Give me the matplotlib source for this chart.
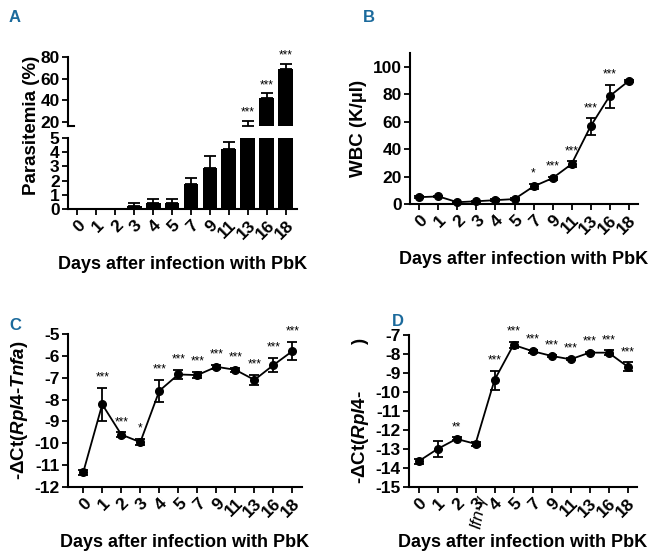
import numpy as np
import matplotlib
matplotlib.use("Agg")
import matplotlib.pyplot as plt

plt.rcParams['font.family'] = ['Liberation Sans', 'DejaVu Sans']
plt.rcParams['font.weight'] = 'bold'
plt.rcParams['axes.unicode_minus'] = False
plt.rcParams['mathtext.fontset'] = 'custom'
plt.rcParams['mathtext.rm'] = 'Liberation Sans:bold'
plt.rcParams['mathtext.it'] = 'Liberation Sans:bold:italic'
plt.rcParams['mathtext.bf'] = 'Liberation Sans:bold'

days = ["0", "1", "2", "3", "4", "5", "7", "9", "11", "13", "16", "18"]

# A: parasitemia (%)
para = [0, 0, 0, 0.22, 0.45, 0.45, 1.75, 2.9, 4.25, 16.5, 42, 68.5]
para_err = [0, 0, 0, 0.2, 0.22, 0.22, 0.45, 0.8, 0.5, 4.5, 4.5, 5.0]
para_sig = ["", "", "", "", "", "", "", "", "", "***", "***", "***"]

# B: WBC (K/ul)
wbc = [5.0, 5.5, 1.3, 2.0, 2.8, 3.6, 12.8, 18.8, 29.0, 56.5, 78.5, 89.5]
wbc_err = [0.6, 0.6, 0.4, 0.5, 0.5, 0.6, 1.8, 1.2, 2.0, 6.0, 8.5, 0.8]
wbc_sig = ["", "", "", "", "", "", "*", "***", "***", "***", "***", ""]

# C: -dCt(Rpl4-Tnfa)
tnfa = [-11.33, -8.22, -9.6, -9.95, -7.6, -6.85, -6.88, -6.5, -6.64, -7.1, -6.42, -5.78]
tnfa_err = [0.1, 0.77, 0.1, 0.15, 0.5, 0.22, 0.15, 0.08, 0.1, 0.22, 0.33, 0.43]
tnfa_sig = ["", "***", "***", "*", "***", "***", "***", "***", "***", "***", "***", "***"]

# D: -dCt(Rpl4-Ifng)
ifng = [-13.65, -13.0, -12.47, -12.73, -9.37, -7.52, -7.85, -8.1, -8.28, -7.93, -7.93, -8.66]
ifng_err = [0.15, 0.4, 0.08, 0.12, 0.5, 0.17, 0.08, 0.06, 0.06, 0.05, 0.12, 0.22]
ifng_sig = ["", "", "**", "", "***", "***", "***", "***", "***", "***", "***", "***"]

W, H = 662, 560
fig = plt.figure(figsize=(W / 100, H / 100), dpi=100)


def ax_at(l, t, r, b):
    return fig.add_axes([l / W, 1 - b / H, (r - l) / W, (b - t) / H])


def style(ax, xt=True):
    for s in ['top', 'right']:
        ax.spines[s].set_visible(False)
    for s in ['left', 'bottom']:
        ax.spines[s].set_linewidth(1.5)
    ax.tick_params(width=1.3, length=4, labelsize=12.5, pad=2)
    for lab in ax.get_yticklabels():
        lab.set_fontweight('bold')
    if xt:
        ax.set_xticks(range(len(days)))
        ax.set_xticklabels(days, rotation=45, ha='right', rotation_mode='anchor',
                           fontsize=12.5, fontweight='bold')


x = np.arange(len(days))
blue = '#1b6a9c'

# ---- panel A (broken axis) ----
axu = ax_at(68, 57, 297, 126)
axl = ax_at(68, 138, 297, 209)
for a in (axu, axl):
    a.bar(x, para, width=0.78, color='black', zorder=2)
    a.errorbar(x, para, yerr=[np.zeros(len(x)), para_err], fmt='none',
               ecolor='black', elinewidth=1.3, capsize=4, capthick=1.3)
    a.set_xlim(-0.5, 11.6)
axu.set_ylim(16.3, 80)
axu.set_yticks([20, 40, 60, 80])
axl.set_ylim(0, 5)
axl.set_yticks([0, 1, 2, 3, 4, 5])
style(axu, xt=False)
style(axl)
axu.spines['bottom'].set_visible(False)
axu.tick_params(axis='x', bottom=False, labelbottom=False)
axu.plot([-0.5, -0.2], [16.3, 16.3], color='black', lw=1.5, clip_on=False)
for i, s in enumerate(para_sig):
    if s:
        axu.text(x[i], para[i] + para_err[i] + 2, s, ha='center', va='bottom',
                 fontsize=8.5, fontweight='normal')
axl.set_xlabel("Days after infection with PbK", fontsize=13, fontweight='bold', labelpad=10)
fig.text(31 / W, 1 - 125 / H, "Parasitemia (%)", rotation=90, ha='center', va='center',
         fontsize=13.5, fontweight='bold')


def line_panel(box, y, err, sig, ylim, yticks, xlim, off):
    ax = ax_at(*box)
    ax.errorbar(x, y, yerr=err, fmt='-o', color='black', ms=5.5, lw=1.3,
                elinewidth=1.3, capsize=3.5, capthick=1.3, clip_on=False, zorder=3)
    ax.set_ylim(*ylim)
    ax.set_yticks(yticks)
    ax.set_xlim(*xlim)
    style(ax)
    for i, s in enumerate(sig):
        if s:
            ax.text(x[i], y[i] + err[i] + off, s, ha='center', va='bottom',
                    fontsize=8.5, fontweight='normal')
    ax.set_xlabel("Days after infection with PbK", fontsize=13, fontweight='bold', labelpad=10)
    return ax


axb = line_panel((410, 53, 638, 204), wbc, wbc_err, wbc_sig, (0, 110),
                 [0, 20, 40, 60, 80, 100], (-0.5, 11.5), 3)
axb.set_ylabel("WBC (K/\u00b5l)", fontsize=13.5, fontweight='bold', labelpad=4)

axc = line_panel((68, 334, 302, 487), tnfa, tnfa_err, tnfa_sig, (-12, -5),
                 [-12, -11, -10, -9, -8, -7, -6, -5], (-0.8, 11.5), 0.2)
axc.set_ylabel(r"-$\Delta$Ct($\it{Rpl4}$-$\it{Tnfa}$)", fontsize=13.5, fontweight='bold', labelpad=3)

axd = line_panel((409, 335, 637, 487), ifng, ifng_err, ifng_sig, (-15, -7),
                 [-15, -14, -13, -12, -11, -10, -9, -8, -7], (-0.5, 11.5), 0.2)
axd.set_ylabel(r"-$\Delta$Ct($\it{Rpl4}$-         )", fontsize=13.5, fontweight='bold', labelpad=3)
fig.text(479 / W, 1 - 512 / H, "Ifn-\u03b3", rotation=80, ha='center',
         va='center', fontsize=12.5, fontweight='normal', fontstyle='italic')

for lab, (px, py) in zip("ABCD", [(15, 17), (369, 17), (15, 326), (398, 322)]):
    fig.text(px / W, 1 - py / H, lab, color=blue, fontsize=12, fontweight='bold',
             ha='center', va='center')

fig.savefig("out.png", dpi=100)
